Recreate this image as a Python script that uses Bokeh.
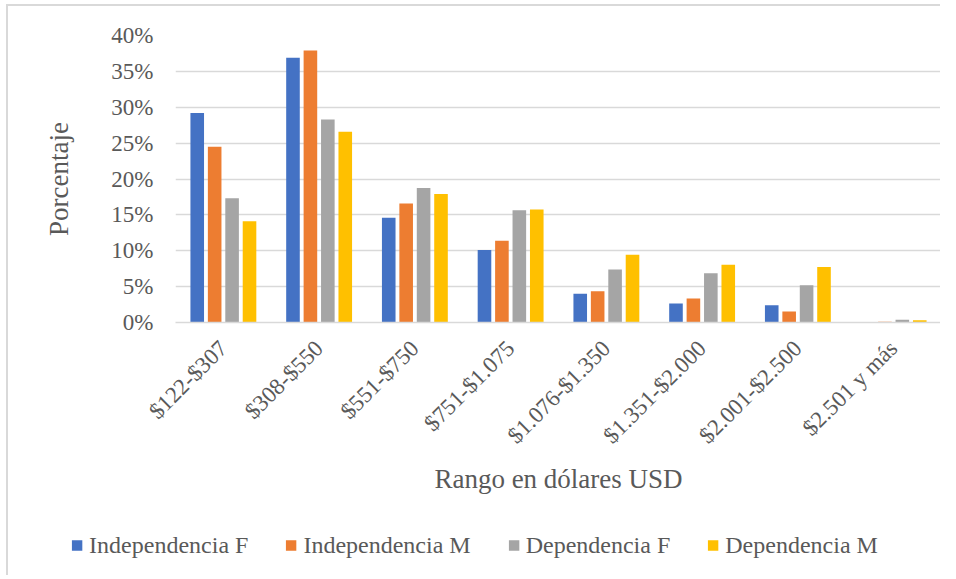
import math
from bokeh.plotting import figure
from bokeh.layouts import column
from bokeh.models import (FactorRange, Range1d, PrintfTickFormatter, FixedTicker,
                          Legend, LegendItem, ColumnDataSource)
from bokeh.transform import dodge
from bokeh.embed import file_html
from bokeh.resources import INLINE

categories = ["$122-$307", "$308-$550", "$551-$750", "$751-$1.075",
              "$1.076-$1.350", "$1.351-$2.000", "$2.001-$2.500", "$2.501 y más"]
independencia_f = [29.2, 36.9, 14.6, 10.1, 4.0, 2.65, 2.4, 0.0]
independencia_m = [24.5, 37.9, 16.6, 11.4, 4.35, 3.35, 1.55, 0.1]
dependencia_f = [17.3, 28.3, 18.75, 15.65, 7.4, 6.85, 5.2, 0.4]
dependencia_m = [14.1, 26.6, 17.9, 15.75, 9.45, 8.05, 7.75, 0.3]
series_names = ["Independencia F", "Independencia M", "Dependencia F", "Dependencia M"]
y_ticks = [0, 5, 10, 15, 20, 25, 30, 35, 40]

colors = ["#4472C4", "#ED7D31", "#A5A5A5", "#FFC000"]
offsets = [-0.273, -0.091, 0.091, 0.273]
FONT = "Liberation Serif"
TXT = "#595959"
BORDER = "2px solid #d9d9d9"

source = ColumnDataSource(dict(cat=categories, s0=independencia_f, s1=independencia_m,
                               s2=dependencia_f, s3=dependencia_m))

# ---- main chart ----
p = figure(x_range=FactorRange(*categories), y_range=Range1d(0, 40),
           frame_width=764, frame_height=285, output_backend="svg", toolbar_location=None,
           min_border_left=167, min_border_right=1, min_border_top=29,
           min_border_bottom=190)
p.styles = {"border-left": BORDER, "border-top": BORDER,
            "margin-left": "6px", "margin-top": "4px"}

for i, (col, off) in enumerate(zip(colors, offsets)):
    p.vbar(x=dodge("cat", off, range=p.x_range), top="s%d" % i, width=0.142,
           source=source, fill_color=col, line_color=None)

p.outline_line_color = None
p.xgrid.grid_line_color = None
p.ygrid.grid_line_color = "#d9d9d9"
p.ygrid.grid_line_width = 1.5
p.yaxis.ticker = FixedTicker(ticks=y_ticks)
p.yaxis.formatter = PrintfTickFormatter(format="%d%%")

for ax in (p.xaxis[0], p.yaxis[0]):
    ax.major_tick_line_color = None
    ax.minor_tick_line_color = None
    ax.major_label_text_font = FONT
    ax.major_label_text_font_size = "23px"
    ax.major_label_text_color = TXT
    ax.axis_label_text_font = FONT
    ax.axis_label_text_font_size = "27px"
    ax.axis_label_text_color = TXT
    ax.axis_label_text_font_style = "normal"

p.yaxis.axis_line_color = None
p.yaxis.major_label_standoff = 16
p.yaxis.axis_label = "Porcentaje"
p.yaxis.axis_label_standoff = 34

p.xaxis.axis_line_color = "#d9d9d9"
p.xaxis.axis_line_width = 1.5
p.xaxis.major_label_orientation = math.pi / 4
p.xaxis.major_label_standoff = 16
p.xaxis.axis_label = "Rango en dólares USD"
p.xaxis.axis_label_standoff = 4

# ---- legend strip ----
p2 = figure(x_range=FactorRange(*categories), y_range=Range1d(0, 40),
            frame_width=849, frame_height=40, output_backend="svg", toolbar_location=None,
            x_axis_location=None, y_axis_location=None,
            min_border_left=77, min_border_right=6, min_border_top=15,
            min_border_bottom=10)
p2.styles = {"border-left": BORDER, "margin-left": "6px"}
p2.outline_line_color = None
p2.grid.visible = False

legend_renderers = []
for i, col in enumerate(colors):
    r = p2.vbar(x="cat", top="s%d" % i, width=0.142, source=source,
                fill_color=col, line_color=None, visible=False)
    legend_renderers.append(r)

legend = Legend(items=[LegendItem(label=n, renderers=[r]) for n, r in zip(series_names, legend_renderers)],
                orientation="horizontal", location="center",
                label_text_font=FONT, label_text_font_size="24px", label_text_color=TXT,
                glyph_width=13, glyph_height=13, label_standoff=6, spacing=36,
                border_line_color=None, background_fill_alpha=0, padding=0, margin=0,
                inactive_fill_alpha=0)
p2.add_layout(legend, "center")

layout = column(p, p2, spacing=0)
open("out.html", "w").write(file_html(layout, INLINE))
